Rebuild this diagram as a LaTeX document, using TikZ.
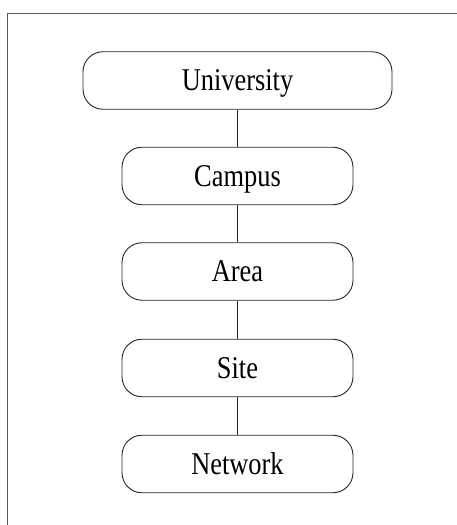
\documentclass[tikz,border=0pt]{standalone}
\usepackage{fontspec}
\usepackage{graphicx}
\setmainfont{Liberation Serif}
\newcommand\tallword[1]{\scalebox{1}[1.2]{#1}}
\begin{document}
\begin{tikzpicture}[x=1pt,y=1pt,
  levelbox/.style={draw=black!85, line width=0.9pt, rounded corners=20pt, minimum height=57.5pt, inner sep=0pt, text height=21pt, text depth=0pt, font=\fontsize{26.4}{30}\selectfont},
  link/.style={draw=black!85, line width=0.9pt}]
\useasboundingbox (0,0) rectangle (457,525);
\coordinate (fa) at (7.5,0);
\coordinate (fb) at (7.5,511.5);
\coordinate (fc) at (457,511.5);
\draw[black!65, line width=1pt] (fa) -- (fb) -- (fc);
\node[levelbox, minimum width=309pt] (uni) at (237.5,444.5) {\tallword{University}};
\node[levelbox, minimum width=231pt] (cam) at (237.5,349) {\tallword{Campus}};
\node[levelbox, minimum width=231pt] (area) at (237.5,253.5) {\tallword{Area}};
\node[levelbox, minimum width=231pt] (site) at (237.5,157) {\tallword{Site}};
\node[levelbox, minimum width=231pt] (net) at (237.5,61) {\tallword{Network}};
\draw[link] (uni) -- (cam);
\draw[link] (cam) -- (area);
\draw[link] (area) -- (site);
\draw[link] (site) -- (net);
\end{tikzpicture}
\end{document}
